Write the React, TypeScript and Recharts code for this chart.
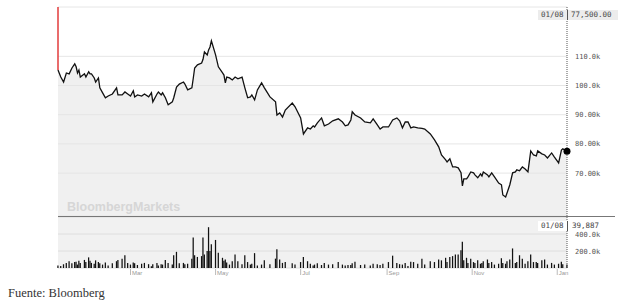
import { ComposedChart, Area, Bar, XAxis, YAxis, CartesianGrid, ReferenceLine, ReferenceDot } from 'recharts';

// calendar days since 01/08 of the previous year
const days = [
  0, 2, 4, 6, 8, 10, 12, 13, 14, 15, 16, 19, 20, 22, 23, 24, 26, 27, 29, 30,
  32, 34, 36, 39, 42, 43, 46, 48, 50, 52, 54, 55, 57, 60, 62, 65, 67, 68, 71, 72,
  74, 75, 77, 79, 82, 83, 85, 87, 90, 91, 93, 96, 97, 98, 100, 103, 104, 105, 107, 108,
  109, 110, 113, 115, 118, 119, 120, 121, 123, 125, 127, 129, 132, 134, 136, 138, 139, 141, 143, 146,
  148, 152, 156, 157, 159, 161, 163, 168, 170, 174, 176, 179, 181, 183, 184, 186, 189, 191, 194, 197,
  201, 204, 206, 208, 210, 211, 213, 217, 220, 224, 226, 229, 231, 233, 237, 240, 243, 245, 247, 249,
  251, 253, 255, 258, 261, 263, 267, 270, 273, 275, 278, 279, 281, 283, 285, 287, 289, 290, 291, 293,
  294, 296, 298, 299, 301, 303, 304, 305, 308, 309, 311, 313, 316, 318, 319, 321, 322, 324, 326, 328,
  329, 331, 333, 335, 337, 339, 341, 343, 344, 347, 349, 351, 354, 356, 359, 361, 362, 365,
];

const prices = [
  105300, 102900, 101200, 104300, 104000, 106000, 107400, 106400, 104300, 105300, 102900, 104000, 102900, 104700, 104000, 104000, 102600, 101200, 102600, 99200,
  97500, 95800, 96400, 97100, 99200, 96800, 96800, 97800, 97100, 96400, 98200, 96100, 96800, 96400, 97100, 96100, 97500, 94400, 97100, 97800,
  96800, 97500, 95800, 93400, 94400, 95800, 99500, 100500, 101200, 100500, 98500, 99200, 102500, 106000, 107100, 107700, 109000, 111500, 110500, 112200,
  113200, 115300, 110500, 106400, 104300, 103600, 100900, 102900, 102600, 101900, 102900, 102300, 102900, 99200, 95800, 96100, 96800, 95100, 98500, 100900,
  99200, 96100, 94400, 89900, 90600, 89200, 91600, 94000, 92700, 88900, 83400, 85500, 85100, 86200, 85800, 87200, 88900, 86200, 86800, 87900,
  88600, 87500, 86200, 86500, 88200, 91000, 89900, 88900, 87500, 87200, 88600, 86500, 85100, 85800, 85800, 88200, 88900, 87900, 85500, 87500,
  87500, 85500, 85800, 85500, 85300, 85100, 83400, 81400, 79000, 76200, 74500, 73800, 74900, 72100, 72100, 71800, 70100, 65600, 68000, 68000,
  68700, 70400, 70100, 69400, 68400, 69700, 69000, 70400, 69400, 68700, 70100, 68700, 66600, 66000, 62500, 61800, 63200, 66000, 70100, 70400,
  71100, 70800, 72100, 71400, 70400, 77600, 76200, 75900, 77600, 76600, 76200, 75200, 76900, 75500, 73500, 77900, 78300, 77500,
];

const volumes = [
  30000, 25000, 45000, 60000, 80000, 55000, 70000, 75000, 40000, 85000, 60000, 95000, 70000, 125000, 85000, 60000, 50000, 90000, 70000, 55000,
  40000, 65000, 30000, 55000, 80000, 95000, 110000, 150000, 60000, 40000, 65000, 55000, 35000, 50000, 60000, 45000, 20000, 45000, 60000, 30000,
  45000, 40000, 95000, 60000, 40000, 150000, 190000, 55000, 60000, 45000, 50000, 110000, 360000, 150000, 130000, 140000, 360000, 160000, 200000, 480000,
  200000, 280000, 330000, 180000, 120000, 85000, 100000, 65000, 40000, 80000, 160000, 80000, 45000, 150000, 70000, 40000, 50000, 175000, 30000, 40000,
  90000, 45000, 110000, 220000, 100000, 60000, 70000, 55000, 40000, 70000, 130000, 80000, 50000, 30000, 40000, 55000, 35000, 60000, 40000, 45000,
  70000, 40000, 30000, 35000, 35000, 55000, 75000, 35000, 40000, 30000, 50000, 45000, 35000, 50000, 70000, 145000, 60000, 45000, 40000, 60000,
  25000, 75000, 70000, 50000, 110000, 40000, 80000, 70000, 100000, 90000, 120000, 70000, 130000, 140000, 160000, 160000, 210000, 310000, 90000, 120000,
  60000, 110000, 70000, 60000, 90000, 50000, 60000, 80000, 100000, 60000, 70000, 40000, 50000, 115000, 60000, 50000, 80000, 100000, 230000, 60000,
  70000, 150000, 110000, 50000, 80000, 160000, 70000, 70000, 60000, 90000, 100000, 40000, 60000, 40000, 50000, 75000, 45000, 39887,
];

const priceTicks = [70000, 80000, 90000, 100000, 110000];
const volumeTicks = [200000, 400000];
const monthTicks = [52, 113, 174, 236, 297, 358];
const monthLabels = ['Mar', 'May', 'Jul', 'Sep', 'Nov', 'Jan'];
const lastDate = '01/08';
const lastPrice = '77,500.00';
const lastVolume = '39,887';

const data = days.map((day, i) => ({ day, price: prices[i], volume: volumes[i] }));
const lastDay = days[days.length - 1];
const priceDomain = [55300, 126900];

const mono = '"DejaVu Sans Mono", monospace';

function ValueTick({ x, y, payload }: any) {
  return (
    <text x={x} y={y} dy={2.5} fontSize={7} fill="#555" fontFamily={mono}>
      {(payload.value / 1000).toPrecision(4)}k
    </text>
  );
}

function MonthTick({ x, y, index }: any) {
  return (
    <g>
      <line x1={x} x2={x} y1={y + 1} y2={y + 7} stroke="#aaa" strokeWidth={0.8} />
      <text x={x + 1.5} y={y + 6.5} fontSize={6} fill="#999" fontFamily="'Liberation Sans', Arial, sans-serif">
        {monthLabels[index] ?? ''}
      </text>
    </g>
  );
}

const boxText: React.CSSProperties = {
  position: 'absolute',
  fontFamily: mono,
  fontSize: 7.5,
  color: '#444',
  lineHeight: '10px',
};

export default function App() {
  return (
    <div style={{ position: 'fixed', left: 0, top: 0, width: 637, height: 302, background: '#fff', overflow: 'hidden' }}>
      <div style={{ position: 'absolute', left: 0, top: 0 }}>
        <ComposedChart width={637} height={217} data={data} margin={{ top: 7, right: 0, bottom: 1, left: 58 }}>
          <CartesianGrid vertical={false} stroke="#e6e6e6" />
          <XAxis type="number" dataKey="day" domain={[0, 365]} hide />
          <YAxis
            orientation="right"
            width={70}
            domain={priceDomain}
            ticks={priceTicks}
            interval={0}
            allowDataOverflow
            axisLine={false}
            tickLine={false}
            tick={<ValueTick />}
          />
          <Area
            type="linear"
            dataKey="price"
            stroke="#111"
            strokeWidth={1.3}
            fill="#e4e4e4"
            fillOpacity={0.55}
            dot={false}
            activeDot={false}
            isAnimationActive={false}
          />
          <ReferenceLine
            segment={[{ x: 0, y: priceDomain[1] }, { x: 0, y: prices[0] }]}
            stroke="#e23b3b"
            strokeWidth={1.5}
          />
          <ReferenceLine x={lastDay} stroke="#555" strokeDasharray="1 1" />
          <ReferenceDot x={lastDay} y={prices[prices.length - 1]} r={3.5} fill="#000" stroke="none" />
        </ComposedChart>
      </div>

      <div
        style={{
          position: 'absolute',
          left: 67,
          top: 200,
          fontFamily: "'Liberation Sans', Arial, sans-serif",
          fontWeight: 700,
          fontSize: 12.5,
          color: '#d6d6d6',
          lineHeight: '14px',
        }}
      >
        BloombergMarkets
      </div>

      <div style={{ position: 'absolute', left: 58, top: 215.5, width: 557, height: 1.5, background: '#777' }} />

      <div style={{ position: 'absolute', left: 0, top: 217 }}>
        <ComposedChart width={637} height={60} data={data} margin={{ top: 0, right: 0, bottom: 0, left: 58 }}>
          <CartesianGrid vertical={false} stroke="#dedede" fill="#f1f1f1" />
          <XAxis
            type="number"
            dataKey="day"
            domain={[0, 365]}
            ticks={monthTicks}
            height={9}
            axisLine={false}
            tickLine={false}
            tickSize={0}
            tickMargin={0}
            tick={<MonthTick />}
            interval={0}
          />
          <YAxis
            orientation="right"
            width={70}
            domain={[0, 600000]}
            ticks={volumeTicks}
            interval={0}
            axisLine={false}
            tickLine={false}
            tick={<ValueTick />}
          />
          <Bar dataKey="volume" fill="#111" barSize={2.5} isAnimationActive={false} />
          <ReferenceLine x={lastDay} stroke="#555" strokeDasharray="1 1" />
        </ComposedChart>
      </div>

      <div style={{ position: 'absolute', left: 538, top: 10, width: 80, height: 10, background: '#ececec' }}>
        <span style={{ ...boxText, left: 3, top: 0 }}>{lastDate}</span>
        <span style={{ position: 'absolute', left: 29, top: 0, width: 1, height: 10, background: '#555' }} />
        <span style={{ ...boxText, left: 33, top: 0 }}>{lastPrice}</span>
      </div>

      <div style={{ position: 'absolute', left: 538, top: 221, width: 64, height: 10, background: '#fff' }}>
        <span style={{ ...boxText, left: 3, top: 0 }}>{lastDate}</span>
        <span style={{ position: 'absolute', left: 29, top: 0, width: 1, height: 10, background: '#555' }} />
        <span style={{ ...boxText, left: 34, top: 0 }}>{lastVolume}</span>
      </div>

      <div
        style={{
          position: 'absolute',
          left: 8,
          top: 286,
          fontFamily: "'Liberation Serif', 'DejaVu Serif', serif",
          fontSize: 12.5,
          color: '#333',
          lineHeight: '14px',
        }}
      >
        Fuente: Bloomberg
      </div>
    </div>
  );
}
